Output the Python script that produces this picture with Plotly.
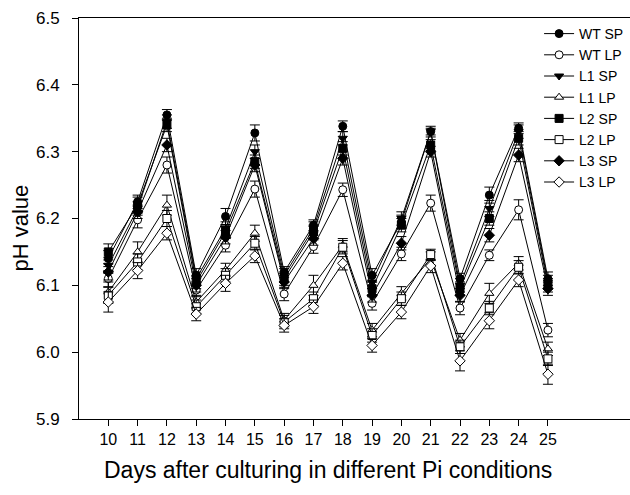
import plotly.graph_objects as go

days = list(range(10, 26))

WT_SP = [6.140, 6.225, 6.355, 6.115, 6.203, 6.328, 6.120, 6.190, 6.338, 6.115, 6.195, 6.330, 6.110, 6.235, 6.335, 6.110]
WT_LP = [6.110, 6.198, 6.280, 6.093, 6.160, 6.244, 6.087, 6.158, 6.243, 6.073, 6.147, 6.223, 6.066, 6.145, 6.213, 6.033]
L1_SP = [6.130, 6.215, 6.345, 6.110, 6.185, 6.300, 6.115, 6.185, 6.320, 6.105, 6.200, 6.330, 6.100, 6.215, 6.330, 6.105]
L1_LP = [6.090, 6.150, 6.220, 6.075, 6.123, 6.178, 6.048, 6.100, 6.160, 6.033, 6.088, 6.140, 6.018, 6.088, 6.133, 6.005]
L2_SP = [6.150, 6.220, 6.340, 6.105, 6.180, 6.285, 6.110, 6.180, 6.305, 6.095, 6.190, 6.310, 6.095, 6.200, 6.320, 6.100]
L2_LP = [6.085, 6.135, 6.200, 6.068, 6.115, 6.163, 6.045, 6.080, 6.157, 6.025, 6.080, 6.146, 6.008, 6.066, 6.127, 5.990]
L3_SP = [6.120, 6.210, 6.310, 6.100, 6.172, 6.280, 6.105, 6.170, 6.290, 6.085, 6.163, 6.300, 6.085, 6.175, 6.295, 6.095]
L3_LP = [6.075, 6.122, 6.178, 6.057, 6.103, 6.144, 6.040, 6.068, 6.133, 6.010, 6.060, 6.129, 5.987, 6.047, 6.108, 5.967]

WT_SP_err = [0.012, 0.010, 0.008, 0.010, 0.012, 0.012, 0.008, 0.008, 0.008, 0.010, 0.010, 0.005, 0.008, 0.012, 0.008, 0.010]
WT_LP_err = [0.012, 0.012, 0.012, 0.010, 0.010, 0.012, 0.010, 0.010, 0.010, 0.010, 0.010, 0.012, 0.010, 0.008, 0.015, 0.010]
L1_SP_err = [0.012, 0.010, 0.010, 0.010, 0.010, 0.010, 0.010, 0.010, 0.010, 0.010, 0.010, 0.008, 0.010, 0.012, 0.010, 0.010]
L1_LP_err = [0.015, 0.015, 0.015, 0.010, 0.010, 0.012, 0.010, 0.015, 0.010, 0.010, 0.010, 0.010, 0.010, 0.015, 0.010, 0.010]
L2_SP_err = [0.012, 0.012, 0.010, 0.010, 0.010, 0.010, 0.010, 0.010, 0.010, 0.010, 0.010, 0.008, 0.010, 0.010, 0.010, 0.010]
L2_LP_err = [0.012, 0.012, 0.012, 0.010, 0.010, 0.010, 0.010, 0.010, 0.010, 0.010, 0.010, 0.008, 0.010, 0.010, 0.010, 0.010]
L3_SP_err = [0.012, 0.010, 0.010, 0.010, 0.010, 0.010, 0.010, 0.010, 0.010, 0.010, 0.010, 0.008, 0.010, 0.010, 0.010, 0.010]
L3_LP_err = [0.015, 0.012, 0.010, 0.010, 0.012, 0.010, 0.010, 0.010, 0.010, 0.010, 0.010, 0.010, 0.015, 0.012, 0.010, 0.015]

series = [
    ("WT SP", WT_SP, WT_SP_err, "circle", "black"),
    ("WT LP", WT_LP, WT_LP_err, "circle", "white"),
    ("L1 SP", L1_SP, L1_SP_err, "triangle-down", "black"),
    ("L1 LP", L1_LP, L1_LP_err, "triangle-up", "white"),
    ("L2 SP", L2_SP, L2_SP_err, "square", "black"),
    ("L2 LP", L2_LP, L2_LP_err, "square", "white"),
    ("L3 SP", L3_SP, L3_SP_err, "diamond", "black"),
    ("L3 LP", L3_LP, L3_LP_err, "diamond", "white"),
]

fig = go.Figure()
for name, vals, errs, sym, fill in series:
    fig.add_trace(go.Scatter(
        x=days, y=vals, name=name, mode="lines+markers",
        line=dict(color="black", width=1),
        marker=dict(symbol=sym, size=8, color=fill, line=dict(color="black", width=1)),
        error_y=dict(type="data", array=errs, visible=True, color="black", thickness=1, width=5),
    ))

FONT = "Liberation Sans, Arial, sans-serif"
fig.update_layout(
    width=630, height=495,
    margin=dict(l=79, r=0, t=18, b=76),
    paper_bgcolor="white", plot_bgcolor="white",
    font=dict(family=FONT, color="black", size=16),
    showlegend=True,
    legend=dict(x=0.835, y=1.0, xanchor="left", yanchor="top",
                font=dict(size=14, family=FONT, color="black"),
                bgcolor="rgba(0,0,0,0)", borderwidth=0, tracegroupgap=0),
    xaxis=dict(range=[9.0, 27.8], tickvals=days, ticktext=[str(d) for d in days],
               showline=True, linecolor="black", linewidth=1, mirror=True,
               ticks="outside", ticklen=6, tickcolor="black", showgrid=False, zeroline=False,
               tickfont=dict(size=16)),
    yaxis=dict(range=[5.9, 6.5], dtick=0.1, tick0=5.9, tickformat=".1f",
               showline=True, linecolor="black", linewidth=1,
               ticks="outside", ticklen=6, tickcolor="black", showgrid=False, zeroline=False,
               ticklabelstandoff=9, tickfont=dict(size=17)),
    annotations=[
        dict(text="Days after culturing in different Pi conditions", xref="paper", yref="paper",
             x=0.452, y=-0.127, xanchor="center", yanchor="middle", showarrow=False,
             font=dict(size=23, family=FONT)),
        dict(text="pH value", xref="paper", yref="paper", x=-0.107, y=0.475,
             xanchor="center", yanchor="middle", textangle=-90, showarrow=False,
             font=dict(size=22, family=FONT)),
    ],
)

fig.write_html("out.html")
